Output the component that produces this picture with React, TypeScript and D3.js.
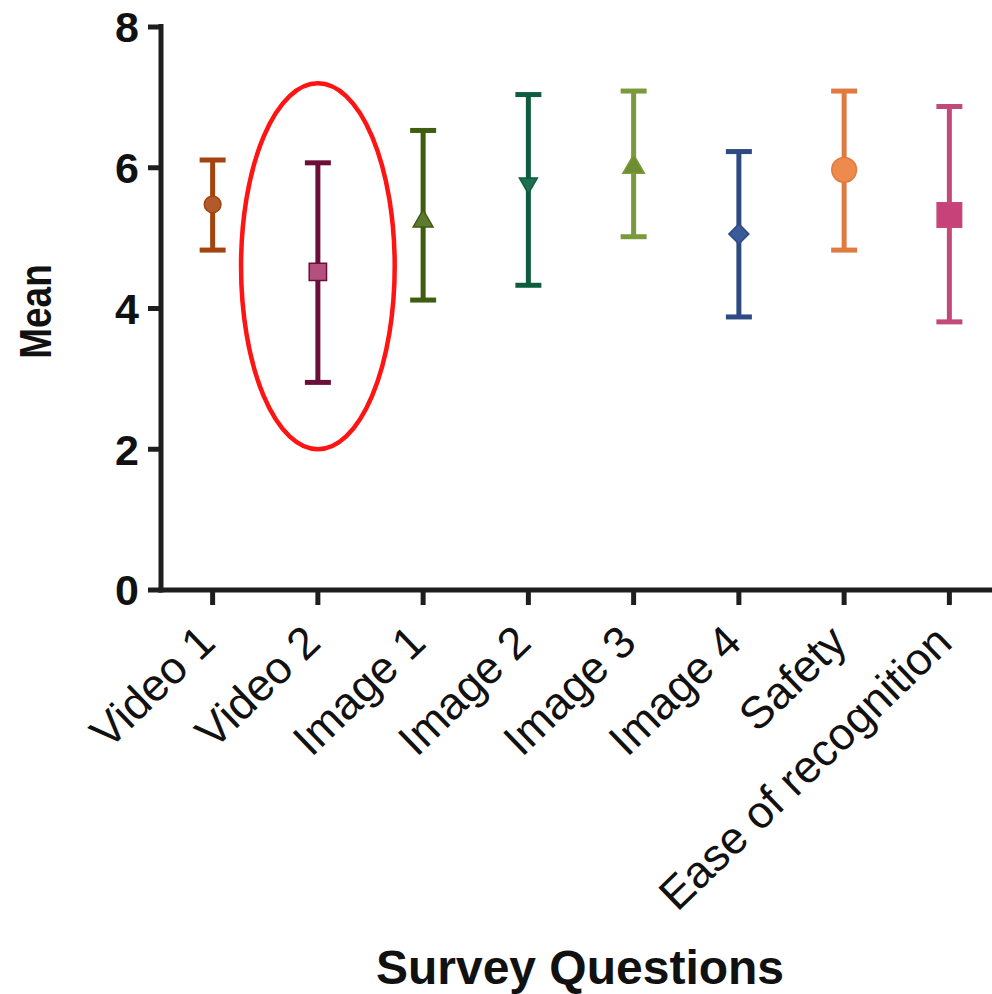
import React, { useEffect, useRef } from 'react';
import * as d3 from 'd3';

const categories = ["Video 1", "Video 2", "Image 1", "Image 2", "Image 3", "Image 4", "Safety", "Ease of recognition"];
const means = [5.48, 4.52, 5.24, 5.78, 6.01, 5.06, 5.97, 5.33];
const upper = [6.11, 6.07, 6.53, 7.04, 7.09, 6.23, 7.09, 6.87];
const lower = [4.83, 2.95, 4.12, 4.33, 5.02, 3.88, 4.83, 3.81];
const yTicks = [0, 2, 4, 6, 8];

// highlighted question (red ellipse), in data units
const highlight = { category: "Video 2", lo: 2.0, hi: 7.2 };

const lineColors = ["#a2440f", "#6b0f38", "#3e5d0e", "#0e5c3e", "#7a9a3c", "#2e4a82", "#e07a40", "#c24a7a"];
const markerColors = ["#b35a2a", "#b5507e", "#5e7a2e", "#1a7050", "#6e8c32", "#3a5a9a", "#ee8a4c", "#c8427a"];
const markerShapes = ["circle", "square", "triangle", "triangleDown", "triangle", "diamond", "circle", "square"];
const markerSizes = [220, 300, 170, 140, 200, 200, 480, 600];

const font = "'Liberation Sans', Arial, Helvetica, sans-serif";

function App() {
  const ref = useRef<SVGSVGElement | null>(null);

  useEffect(() => {
    const width = 992;
    const height = 994;
    const svg = d3.select(ref.current);
    svg.selectAll("*").remove();

    const x = d3.scaleBand().domain(categories).range([160, 1002]);
    const y = d3.scaleLinear().domain([0, 8]).range([590, 27]);
    const cx = (c: string) => (x(c) as number) + x.bandwidth() / 2;

    // highlight ellipse
    const hy0 = y(highlight.hi), hy1 = y(highlight.lo);
    svg.append("ellipse")
      .attr("cx", cx(highlight.category))
      .attr("cy", (hy0 + hy1) / 2)
      .attr("rx", x.bandwidth() * 0.73)
      .attr("ry", (hy1 - hy0) / 2)
      .attr("fill", "none")
      .attr("stroke", "#ff1414")
      .attr("stroke-width", 4.5);

    // error bars
    const g = svg.append("g");
    categories.forEach((c, i) => {
      const px = cx(c);
      const col = lineColors[i];
      g.append("line")
        .attr("x1", px).attr("x2", px)
        .attr("y1", y(upper[i])).attr("y2", y(lower[i]))
        .attr("stroke", col).attr("stroke-width", 5);
      [upper[i], lower[i]].forEach(v => {
        g.append("line")
          .attr("x1", px - 13).attr("x2", px + 13)
          .attr("y1", y(v)).attr("y2", y(v))
          .attr("stroke", col).attr("stroke-width", 5);
      });

      const shape = markerShapes[i];
      let type: d3.SymbolType = d3.symbolCircle;
      let rot = 0;
      if (shape === "square") type = d3.symbolSquare;
      if (shape === "triangle") type = d3.symbolTriangle;
      if (shape === "triangleDown") { type = d3.symbolTriangle; rot = 180; }
      if (shape === "diamond") { type = d3.symbolSquare; rot = 45; }
      g.append("path")
        .attr("d", d3.symbol().type(type).size(markerSizes[i])())
        .attr("transform", `translate(${px},${y(means[i])}) rotate(${rot})`)
        .attr("fill", markerColors[i])
        .attr("stroke", col)
        .attr("stroke-width", 1.5);
    });

    // y axis
    const yAxis = svg.append("g");
    yAxis.append("line")
      .attr("x1", 161).attr("x2", 161)
      .attr("y1", y(8) - 3).attr("y2", y(0) + 2.5)
      .attr("stroke", "#1e1e1e").attr("stroke-width", 5);
    yTicks.forEach(t => {
      yAxis.append("line")
        .attr("x1", 148).attr("x2", 161)
        .attr("y1", y(t)).attr("y2", y(t))
        .attr("stroke", "#1e1e1e").attr("stroke-width", 5);
      yAxis.append("text")
        .attr("x", 139).attr("y", y(t))
        .attr("dy", "0.36em")
        .attr("text-anchor", "end")
        .attr("font-family", font)
        .attr("font-weight", "bold")
        .attr("font-size", 43)
        .attr("fill", "#111")
        .text(t);
    });

    // x axis
    const xAxis = svg.append("g");
    xAxis.append("line")
      .attr("x1", 158.5).attr("x2", width)
      .attr("y1", y(0)).attr("y2", y(0))
      .attr("stroke", "#1e1e1e").attr("stroke-width", 5);
    categories.forEach(c => {
      const px = cx(c);
      xAxis.append("line")
        .attr("x1", px).attr("x2", px)
        .attr("y1", y(0)).attr("y2", y(0) + 15)
        .attr("stroke", "#1e1e1e").attr("stroke-width", 5);
      xAxis.append("text")
        .attr("transform", `translate(${px + 5},${y(0) + 55}) rotate(-44)`)
        .attr("text-anchor", "end")
        .attr("font-family", font)
        .attr("font-size", 45)
        .attr("fill", "#111")
        .text(c);
    });

    // axis titles
    svg.append("text")
      .attr("transform", `translate(51,${(y(0) + y(8)) / 2 + 3}) rotate(-90) scale(1,1.2)`)
      .attr("text-anchor", "middle")
      .attr("font-family", font)
      .attr("font-weight", "bold")
      .attr("font-size", 37)
      .attr("fill", "#111")
      .text("Mean");

    svg.append("text")
      .attr("x", 580).attr("y", 984)
      .attr("text-anchor", "middle")
      .attr("font-family", font)
      .attr("font-weight", "bold")
      .attr("font-size", 48)
      .attr("fill", "#111")
      .text("Survey Questions");

    svg.attr("width", width).attr("height", height);
  }, []);

  return (
    <div>
      <style>{`body{margin:0}`}</style>
      <svg ref={ref} width={992} height={994} style={{ display: 'block', background: '#fff' }} />
    </div>
  );
}

export default App;
